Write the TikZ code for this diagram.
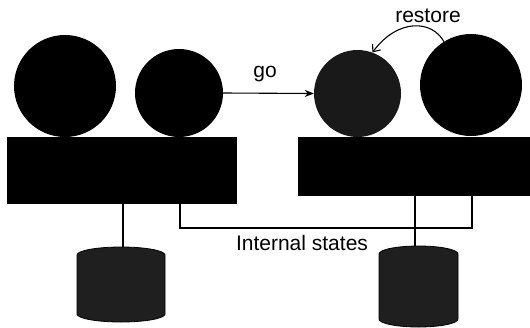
\documentclass[tikz,border=0pt]{standalone}
\usepackage{fontspec}
\setmainfont{Liberation Sans}
\usetikzlibrary{arrows.meta}
\begin{document}
\begin{tikzpicture}[x=1pt,y=1pt,
  ball/.style={circle,fill=black,inner sep=0pt,draw=none},
  gball/.style={circle,fill=black!90,inner sep=0pt,draw=none},
  box/.style={rectangle,fill=black,inner sep=0pt,draw=none},
  wire/.style={line width=1.1pt,black},
  lbl/.style={font=\fontsize{21}{25}\selectfont,inner sep=0pt},
  disk/.style={fill=black!88,draw=black,line width=0.8pt}]
\useasboundingbox (0,0) rectangle (530,-327);
% left machine
\node[box,minimum width=230,minimum height=67] (rectL) at (122,-170.5) {};
\node[ball,minimum size=102] (bigL) at (65,-86) {};
\node[ball,minimum size=88] (smallL) at (179,-93) {};
% right machine
\node[box,minimum width=232,minimum height=59] (rectR) at (414,-166.5) {};
\node[gball,minimum size=87] (grayR) at (357.5,-93.5) {};
\node[ball,minimum size=102] (bigR) at (471,-85) {};
% disks
\fill[disk] (77,-314) arc[start angle=180,end angle=360,x radius=44,y radius=8] -- (165,-255) arc[start angle=0,end angle=180,x radius=44,y radius=8] -- cycle;
\coordinate (db1) at (123,-247);
\fill[disk] (379,-319) arc[start angle=180,end angle=360,x radius=39.5,y radius=8] -- (458,-254) arc[start angle=0,end angle=180,x radius=39.5,y radius=8] -- cycle;
\coordinate (db2) at (415,-246);
% connectors
\draw[wire] (rectL.south -| db1) -- (db1);
\draw[wire] (rectR.south -| db2) -- (db2);
\coordinate (isL) at ([xshift=58]rectL.south);
\coordinate (isR) at ([xshift=58]rectR.south);
\draw[wire] (isL) -- (180,-228) -| (isR);
\draw[wire,-{Stealth[length=9,width=7]}] (smallL.east) -- (grayR.west);
\draw[wire,-{Straight Barb[length=6,width=10]}] (bigR.122) .. controls (432,-20) and (398,-18) .. (grayR.70);
% labels
\node[lbl] (go) at (265,-74) {go};
\node[lbl] (restore) at (428,-16) {restore};
\node[lbl] (istates) at (302,-243) {Internal states};
\end{tikzpicture}
\end{document}
